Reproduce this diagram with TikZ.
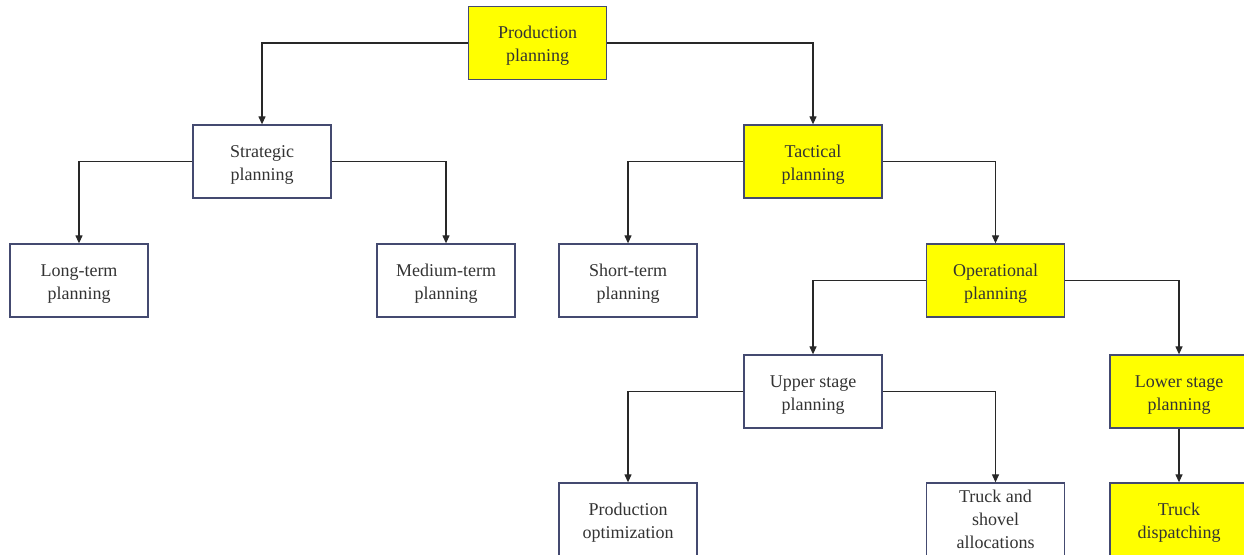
\documentclass[tikz,border=0pt]{standalone}
\usepackage{fontspec}
\setmainfont{Liberation Serif}
\usetikzlibrary{arrows.meta}
\definecolor{boxline}{RGB}{68,74,112}
\definecolor{hl}{RGB}{255,255,0}
\definecolor{conn}{RGB}{40,40,40}
\newcommand\upstrut{\rule{0pt}{18pt}}
\tikzset{
  box/.style={draw=boxline, line width=1.3pt, fill=white, minimum width=138pt, minimum height=73pt,
    inner sep=2pt, align=center, font=\fontsize{18}{23}\selectfont, text=black!80},
  hbox/.style={box, fill=hl},
  conn/.style={draw=conn, line width=1.2pt, -{Triangle[length=8pt,width=7pt]}}
}
\begin{document}
\begin{tikzpicture}[x=1pt,y=-1pt]
\useasboundingbox (0,0) rectangle (1244,554);
\clip (0,0) rectangle (1244,554);
\node[hbox] (prod) at (537.5,43) {\upstrut Production\\planning};
\node[box] (strat) at (262,161.5) {\upstrut Strategic\\planning};
\node[hbox] (tact) at (813,161.5) {\upstrut Tactical\\planning};
\node[box] (long) at (79,280.5) {\upstrut Long-term\\planning};
\node[box] (med) at (446,280.5) {\upstrut Medium-term\\planning};
\node[box] (short) at (628,280.5) {\upstrut Short-term\\planning};
\node[hbox] (oper) at (995.5,280.5) {\upstrut Operational\\planning};
\node[box] (upper) at (813,391.5) {\upstrut Upper stage\\planning};
\node[hbox] (lower) at (1179,391.5) {\upstrut Lower stage\\planning};
\node[box] (popt) at (628,519.5) {\upstrut Production\\optimization};
\node[box] (tsa) at (995.5,519.5) {Truck and\\shovel\\allocations};
\node[hbox] (tdisp) at (1179,519.5) {\upstrut Truck\\dispatching};
\draw[conn] (prod.west) -| (strat.north);
\draw[conn] (prod.east) -| (tact.north);
\draw[conn] (strat.west) -| (long.north);
\draw[conn] (strat.east) -| (med.north);
\draw[conn] (tact.west) -| (short.north);
\draw[conn] (tact.east) -| (oper.north);
\draw[conn] (oper.west) -| (upper.north);
\draw[conn] (oper.east) -| (lower.north);
\draw[conn] (upper.west) -| (popt.north);
\draw[conn] (upper.east) -| (tsa.north);
\draw[conn] (lower.south) -- (tdisp.north);
\end{tikzpicture}
\end{document}
